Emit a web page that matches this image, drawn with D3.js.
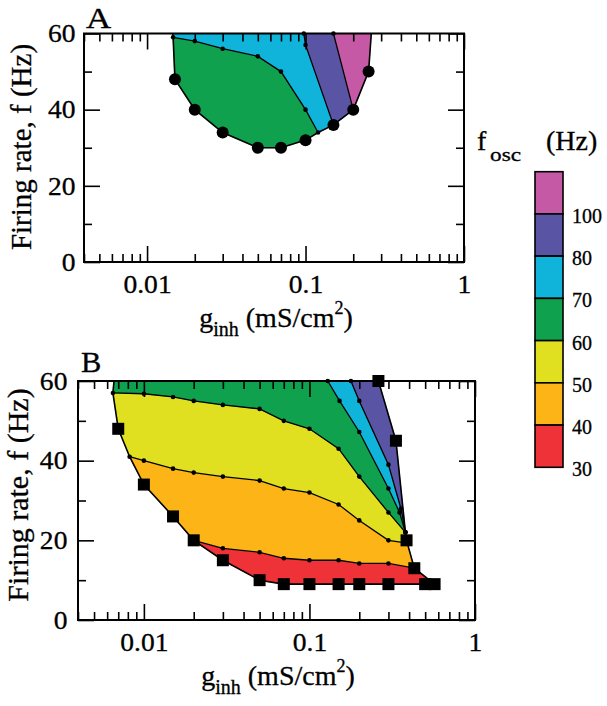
<!DOCTYPE html>
<html>
<head>
<meta charset="utf-8">
<script src="https://cdn.jsdelivr.net/npm/d3@7"></script>
<style>
  body { margin: 0; background: #fff; }
  svg text { stroke: #000; stroke-width: 0.3px; }
</style>
</head>
<body>
<svg id="fig" width="607" height="706" font-family="Liberation Serif"></svg>
<script>
// ---- values: g_inh (mS/cm2), f (Hz) ----

// legend bands, top to bottom (label = lower edge of the band)
var oscLabels = ["100", "80", "70", "60", "50", "40", "30"];

var xMajor = [0.01, 0.1, 1];
var yMajor = [0, 20, 40, 60];
var yMinor = [10, 30, 50];

// Panel A
var aBoundary = [[0.0145, 60], [0.0146, 59], [0.015, 48], [0.02, 40], [0.03, 34], [0.05, 30], [0.07, 30],
                 [0.1, 32], [0.12, 34], [0.15, 36], [0.2, 40], [0.25, 50], [0.26, 60]];
var aMarkers = [[0.015, 48], [0.02, 40], [0.03, 34], [0.05, 30], [0.07, 30], [0.1, 32], [0.15, 36], [0.2, 40], [0.25, 50]];
var aLine70 = [[0.0146, 59], [0.02, 58], [0.03, 56], [0.05, 54], [0.07, 50], [0.1, 40], [0.12, 34]];
var aLine80 = [[0.0975, 60], [0.1, 57], [0.15, 36]];
var aLine100 = [[0.15, 60], [0.2, 40]];

// Panel B
var bBoundary = [[0.0066, 60], [0.0065, 57], [0.007, 48], [0.0082, 41], [0.01, 34], [0.015, 26], [0.02, 20],
                 [0.03, 15], [0.05, 10], [0.07, 9], [0.1, 9], [0.15, 9], [0.2, 9], [0.3, 9], [0.5, 9], [0.57, 9],
                 [0.43, 13], [0.39, 19.3], [0.386, 20], [0.38, 22], [0.333, 45], [0.261, 60]];
var bMarkers = [[0.007, 48], [0.01, 34], [0.015, 26], [0.02, 20], [0.03, 15], [0.05, 10], [0.07, 9], [0.1, 9],
                [0.15, 9], [0.2, 9], [0.3, 9], [0.5, 9], [0.57, 9], [0.43, 13], [0.386, 20], [0.333, 45], [0.261, 60]];
var bLine40 = [[0.02, 20], [0.03, 18], [0.05, 17], [0.07, 15.5], [0.1, 15], [0.15, 15], [0.2, 14.2], [0.3, 14.2], [0.43, 13]];
var bLine50 = [[0.0082, 41], [0.01, 40], [0.015, 38], [0.02, 37], [0.03, 36], [0.05, 35], [0.07, 33], [0.1, 32],
               [0.15, 29], [0.2, 25], [0.3, 20], [0.39, 19.3]];
var bLine60 = [[0.0065, 57], [0.01, 56.8], [0.015, 56], [0.02, 55], [0.03, 54], [0.05, 53], [0.07, 50], [0.1, 48],
               [0.15, 43], [0.2, 36], [0.3, 27], [0.38, 22]];
var bLine70 = [[0.129, 60], [0.152, 55], [0.2, 47.2], [0.3, 33], [0.35, 27], [0.38, 22]];
var bLine80 = [[0.178, 60], [0.2, 55], [0.3, 39], [0.357, 28], [0.38, 22]];

// ---- styles ----
var bandColor = {
  "100": "#c659a6", "80": "#5a54a4", "70": "#10b4da", "60": "#0fa14e",
  "50": "#e0e020", "40": "#fcb416", "30": "#ee3237"
};
var serif = "Liberation Serif";
var tickFont = 26, tickStretch = 1.06;

function rev(a) { return a.slice().reverse(); }

// band polygons, built from boundary and contour lines
var aBands = [
  { level: "60", pts: [aLine70[0]].concat(aBoundary.slice(2, 9), rev(aLine70).slice(1, 6)) },
  { level: "70", pts: [aBoundary[0]].concat(aLine70, [[0.15, 36]], rev(aLine80).slice(1)) },
  { level: "80", pts: aLine80.concat([[0.2, 40], [0.15, 60]]) },
  { level: "100", pts: aLine100.concat([[0.25, 50], [0.26, 60]]) }
];
var bBands = [
  { level: "30", pts: bLine40.concat(rev(bBoundary.slice(7, 16))) },
  { level: "40", pts: bLine50.concat(rev(bLine40), [[0.015, 26], [0.01, 34]]) },
  { level: "50", pts: bLine60.concat([[0.386, 20]], rev(bLine50), [[0.007, 48]]) },
  { level: "60", pts: [[0.0066, 60]].concat(bLine60, rev(bLine70).slice(1)) },
  { level: "70", pts: bLine70.concat(rev(bLine80).slice(1)) },
  { level: "80", pts: bLine80.concat([[0.333, 45], [0.261, 60]]) }
];

var svg = d3.select("#fig");

function drawPanel(o) {
  var x = d3.scaleLog().domain([0.004, 1]).range(o.xr);
  var y = d3.scaleLinear().domain([0, 60]).range(o.yr);
  var g = svg.append("g");
  var line = d3.line().x(function (d) { return x(d[0]); }).y(function (d) { return y(d[1]); });

  // filled bands
  g.selectAll("path.band").data(o.bands).enter().append("path")
    .attr("class", "band")
    .attr("d", function (d) { return line(d.pts) + "Z"; })
    .attr("fill", function (d) { return bandColor[d.level]; })
    .attr("stroke", function (d) { return bandColor[d.level]; })
    .attr("stroke-width", 0.6);

  // axes, ticks inward on all four sides
  var minorX = x.ticks().filter(function (v) {
    var l = Math.log10(v); return Math.abs(l - Math.round(l)) > 1e-6;
  });
  var xl = o.xr[0], xr = o.xr[1], yb = o.yr[0], yt = o.yr[1];
  var axes = [
    { a: d3.axisBottom(x).tickValues(xMajor).tickSize(-16).tickPadding(13).tickFormat(d3.format("~g")), t: [0, yb], lab: true },
    { a: d3.axisBottom(x).tickValues(minorX).tickSize(-8).tickFormat(""), t: [0, yb] },
    { a: d3.axisTop(x).tickValues(xMajor).tickSize(-16).tickFormat(""), t: [0, yt] },
    { a: d3.axisTop(x).tickValues(minorX).tickSize(-8).tickFormat(""), t: [0, yt] },
    { a: d3.axisLeft(y).tickValues(yMajor).tickSize(-16).tickPadding(o.yPad), t: [xl, 0], lab: true },
    { a: d3.axisLeft(y).tickValues(yMinor).tickSize(-8).tickFormat(""), t: [xl, 0] },
    { a: d3.axisRight(y).tickValues(yMajor).tickSize(-16).tickFormat(""), t: [xr, 0] },
    { a: d3.axisRight(y).tickValues(yMinor).tickSize(-8).tickFormat(""), t: [xr, 0] }
  ];
  axes.forEach(function (ax) {
    var ag = g.append("g").attr("transform", "translate(" + ax.t + ")").call(ax.a.tickSizeOuter(0));
    ag.select(".domain").remove();
    ag.attr("font-family", serif).attr("font-size", tickFont);
    ag.selectAll(".tick line").attr("stroke-width", 1.6);
    if (ax.lab) ag.selectAll(".tick text").attr("transform", "scale(" + tickStretch + ",1)");
  });

  g.append("rect")
    .attr("x", xl).attr("y", yt).attr("width", xr - xl).attr("height", yb - yt)
    .attr("fill", "none").attr("stroke", "#000").attr("stroke-width", 2);

  // contour lines with small dots
  o.lines.forEach(function (l) {
    g.append("path").attr("d", line(l)).attr("fill", "none").attr("stroke", "#000").attr("stroke-width", 1.3);
    g.selectAll(null).data(l).enter().append("circle")
      .attr("cx", function (d) { return x(d[0]); }).attr("cy", function (d) { return y(d[1]); })
      .attr("r", 2.3).attr("fill", "#000");
  });

  // outer boundary
  g.append("path").attr("d", line(o.boundary)).attr("fill", "none").attr("stroke", "#000").attr("stroke-width", 1.6);

  // boundary markers
  if (o.marker === "circle") {
    g.selectAll(null).data(o.markers).enter().append("circle")
      .attr("cx", function (d) { return x(d[0]); }).attr("cy", function (d) { return y(d[1]); })
      .attr("r", 6).attr("fill", "#000");
  } else {
    g.selectAll(null).data(o.markers).enter().append("rect")
      .attr("x", function (d) { return x(d[0]) - 6; }).attr("y", function (d) { return y(d[1]) - 6; })
      .attr("width", 12).attr("height", 12).attr("fill", "#000");
  }

  // panel letter
  g.append("g").attr("transform", "translate(" + o.letterPos + ") scale(" + o.letterStretch + ",1)")
    .append("text").attr("font-size", 29).text(o.letter);

  // y title
  g.append("g").attr("transform", "translate(" + o.yTitlePos + ") rotate(-90)")
    .append("text").attr("text-anchor", "middle").attr("font-size", o.yTitleSize)
    .text("Firing rate, f (Hz)");

  // x title
  var xt = g.append("g").attr("transform", "translate(" + o.xTitlePos + ")")
    .append("text").attr("text-anchor", "middle").attr("font-size", 28);
  xt.append("tspan").text("g");
  xt.append("tspan").attr("font-size", 20).attr("dy", 9).text("inh");
  xt.append("tspan").attr("dy", -9).text(" (mS/cm");
  xt.append("tspan").attr("font-size", 18).attr("dy", -13).text("2");
  xt.append("tspan").attr("dy", 13).text(")");
}

drawPanel({
  xr: [84, 464], yr: [262, 33.5], bands: aBands,
  lines: [aLine70, aLine80, aLine100], boundary: aBoundary, markers: aMarkers, marker: "circle",
  yPad: 8, letter: "A", letterPos: [86, 28], letterStretch: 1.2,
  yTitlePos: [31, 147], yTitleSize: 29, xTitlePos: [276, 327]
});

drawPanel({
  xr: [78, 475], yr: [620, 381], bands: bBands,
  lines: [bLine40, bLine50, bLine60, bLine70, bLine80], boundary: bBoundary, markers: bMarkers, marker: "square",
  yPad: 10, letter: "B", letterPos: [81, 372], letterStretch: 1.05,
  yTitlePos: [27.5, 495], yTitleSize: 30, xTitlePos: [278, 685]
});

// ---- legend ----
var ly = d3.scaleBand().domain(oscLabels).range([171.7, 467.3]);
var leg = svg.append("g");
leg.selectAll("rect").data(oscLabels).enter().append("rect")
  .attr("x", 535).attr("y", function (d) { return ly(d); })
  .attr("width", 28).attr("height", ly.bandwidth())
  .attr("fill", function (d) { return bandColor[d]; })
  .attr("stroke", "#000").attr("stroke-width", 1.6);
leg.selectAll("text").data(oscLabels).enter().append("text")
  .attr("x", 572).attr("y", function (d) { return ly(d) + ly.bandwidth() + 2; })
  .attr("dy", "0.35em").attr("font-size", 20).text(function (d) { return d; });

var lt = leg.append("text").attr("font-size", 28);
lt.append("tspan").attr("x", 477).attr("y", 150).text("f");
lt.append("tspan").attr("x", 490).attr("y", 161).attr("font-size", 19)
  .attr("textLength", 31).attr("lengthAdjust", "spacingAndGlyphs").text("osc");
lt.append("tspan").attr("x", 546).attr("y", 150).text("(Hz)");
</script>
</body>
</html>
